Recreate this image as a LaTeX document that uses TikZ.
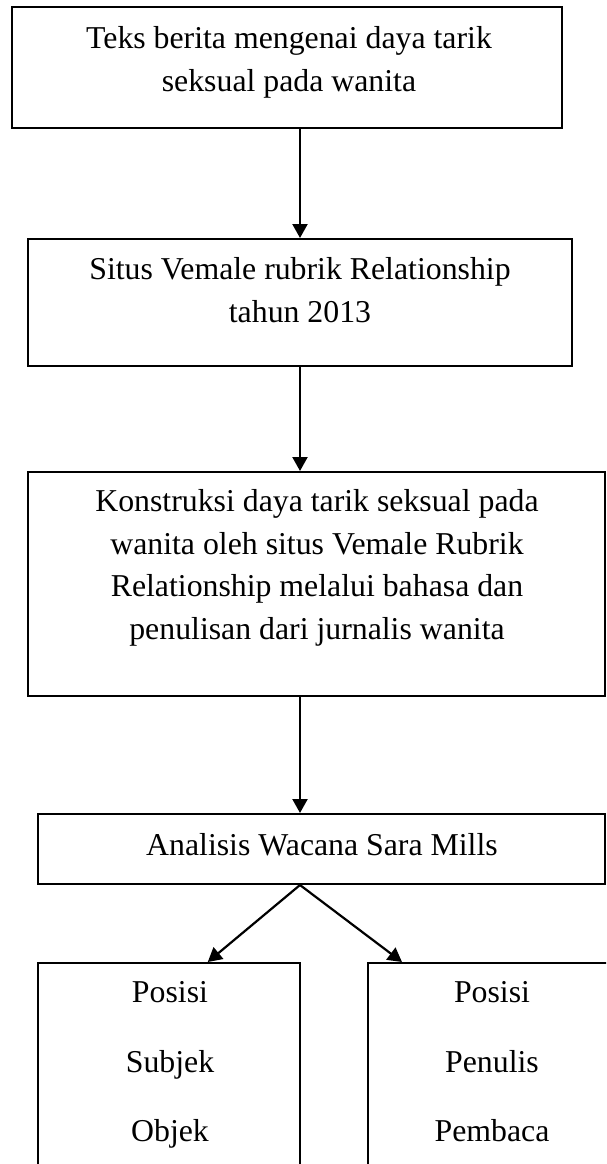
\documentclass[tikz,border=0pt]{standalone}
\usepackage{fontspec}
\setmainfont{Liberation Serif}
\usetikzlibrary{arrows.meta}
\tikzset{
  box/.style={draw, line width=2pt, inner sep=0pt},
  lbl/.style={font=\fontsize{31.8}{42.5}\selectfont, align=center, inner sep=0pt, anchor=base},
  arr/.style={line width=2.2pt, -{Triangle[length=14pt,width=15pt]}}
}
\begin{document}
\begin{tikzpicture}[x=1pt,y=-1pt]
\useasboundingbox (0,0) rectangle (606,1164);
\clip (0,0) rectangle (606,1164);
% boxes
\node[box, minimum width=550pt, minimum height=121pt] (b1) at (287,67.5) {};
\node[box, minimum width=544pt, minimum height=127pt] (b2) at (300,302.5) {};
\node[box, minimum width=577pt, minimum height=224pt] (b3) at (316.5,584) {};
\node[box, minimum width=567.5pt, minimum height=70pt] (b4) at (321.25,849) {};
\node[box, minimum width=262.5pt, minimum height=237pt] (b5) at (168.75,1081.5) {};
\node[box, minimum width=248pt, minimum height=237pt] (b6) at (492,1081.5) {};
% labels (base = baseline of last line)
\node[lbl] (t1) at (289,91) {Teks berita mengenai daya tarik\\seksual pada wanita};
\node[lbl] (t2) at (300,322) {Situs Vemale rubrik Relationship\\tahun 2013};
\node[lbl] (t3) at (317,639) {Konstruksi daya tarik seksual pada\\wanita oleh situs Vemale Rubrik\\Relationship melalui bahasa dan\\penulisan dari jurnalis wanita};
\node[lbl] (t4) at (322,855) {Analisis Wacana Sara Mills};
\node[lbl] (t5a) at (170,1002) {Posisi};
\node[lbl] (t5b) at (170,1072) {Subjek};
\node[lbl] (t5c) at (170,1141) {Objek};
\node[lbl] (t6a) at (492,1002) {Posisi};
\node[lbl] (t6b) at (492,1072) {Penulis};
\node[lbl] (t6c) at (492,1141) {Pembaca};
% arrows
\draw[arr] (b2.north |- b1.south) -- (b2.north);
\draw[arr] (b2.south) -- (b2.south |- b3.north);
\draw[arr] (b2.south |- b3.south) -- (b2.south |- b4.north);
\draw[arr] (b2.south |- b4.south) -- ([xshift=39pt]b5.north);
\draw[arr] (b2.south |- b4.south) -- ([xshift=-90pt]b6.north);
\end{tikzpicture}
\end{document}
